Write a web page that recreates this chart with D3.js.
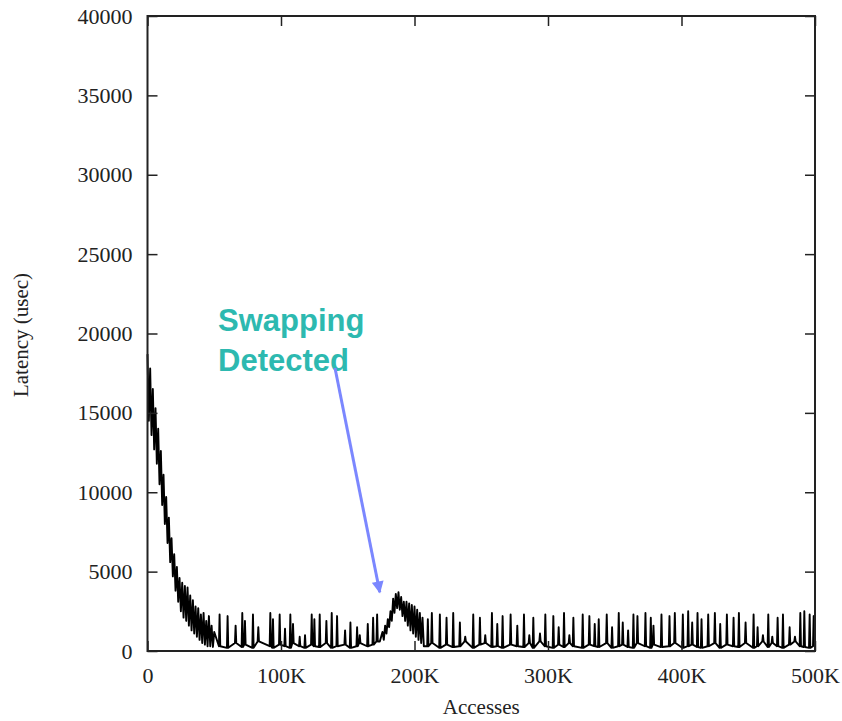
<!DOCTYPE html>
<html>
<head>
<meta charset="utf-8">
<script src="https://cdn.jsdelivr.net/npm/d3@7"></script>
<style>
  body { margin: 0; background: #fff; }
  svg { display: block; }
</style>
</head>
<body>
<svg id="chart"></svg>
<script>
// Latency vs accesses, with the swapping bump annotated

const width = 842;
const height = 721;
const plotLeft = 147.5, plotRight = 815, plotTop = 16, plotBottom = 651;

// x ticks (thousands of accesses), y ticks (usec)
const xTicks = [0, 100, 200, 300, 400, 500];
const yTicks = [0, 5000, 10000, 15000, 20000, 25000, 30000, 35000, 40000];

// warm-up decay, one sample per 1K accesses
const decayK = [0, 1, 2, 3, 4, 5, 6, 7, 8, 9, 10, 11, 12, 13, 14, 15, 16, 17, 18, 19, 20,
    21, 22, 23, 24, 25, 26, 27, 28, 29, 30, 31, 32, 33, 34, 35, 36, 37, 38, 39, 40,
    41, 42, 43, 44, 45, 46, 47, 48, 49, 50];
const decayUsec = [18700, 14500, 17800, 13600, 16500, 12700, 15300, 11800, 14000, 10500, 12600,
    9200, 11100, 8000, 9700, 6800, 8400, 5600, 7100, 4700, 6100,
    3800, 5300, 3100, 4600, 2500, 4300, 2100, 4100, 1900, 4000,
    1600, 3500, 1300, 3200, 1100, 2800, 900, 2700, 700, 2300,
    500, 2400, 400, 1900, 300, 2200, 300, 1600, 250, 1200];

// periodic spikes before the swap
const spikesAK = [54, 60, 66, 71, 73, 79, 83, 92, 94, 99, 103, 107, 109, 114, 118, 123, 125, 129,
    134, 138, 142, 148, 152, 157, 159, 165, 169, 172];
const spikesAPeak = [2300, 2200, 1600, 2400, 1900, 2300, 1500, 2400, 2000, 2300, 1400, 2300, 1700,
    900, 1000, 2300, 2000, 2300, 1900, 2400, 2200, 1300, 1800, 1500, 1000, 1700, 2100, 2300];
const spikesAFloor = [300, 200, 500, 250, 400, 200, 600, 300, 200, 400, 300, 200, 500, 300, 200,
    400, 300, 250, 500, 200, 300, 400, 200, 300, 500, 300, 400, 600];

// swapping bump
const bumpK = [174, 176, 177, 178, 179, 180, 181, 182, 183, 184, 185, 186, 187, 188, 189, 190,
    191, 192, 193, 194, 195, 196, 197, 198, 199, 200, 201, 202, 203, 204, 205, 206, 207];
const bumpUsec = [600, 1200, 700, 1600, 1100, 2000, 1500, 2500, 1900, 3300, 2400, 3600, 2700,
    3700, 2600, 3400, 2200, 3100, 1900, 3100, 1600, 3000, 1300, 2900, 1100, 2800, 900, 2600,
    700, 2400, 500, 2100, 300];

// periodic spikes after the swap
const spikesBK = [210, 213, 219, 224, 229, 234, 238, 244, 249, 253, 258, 262, 266, 272, 277, 282,
    286, 289, 294, 298, 304, 308, 312, 316, 319, 326, 331, 335, 338, 344, 348, 353, 356, 360,
    364, 367, 373, 377, 379, 385, 391, 395, 401, 405, 408, 412, 415, 420, 425, 429, 434, 439,
    443, 448, 454, 457, 461, 465, 468, 472, 476, 481, 485, 489, 492, 496, 499];
const spikesBPeak = [2000, 2400, 2300, 2100, 2400, 1800, 900, 2300, 2100, 1000, 2400, 1700, 2200,
    2300, 1600, 2300, 1000, 2100, 1100, 2300, 2200, 1500, 2400, 1000, 2100, 2300, 2200, 1700,
    2000, 2300, 1500, 2400, 1800, 1300, 2300, 2200, 2400, 2100, 1600, 2300, 2200, 2400, 2300,
    2500, 1800, 2400, 2000, 2300, 2400, 1700, 2300, 2100, 2400, 1800, 2300, 1500, 1000, 2300,
    900, 2100, 2300, 1500, 900, 2400, 2500, 2300, 2200];
const spikesBFloor = [300, 500, 200, 400, 250, 300, 600, 200, 400, 500, 250, 300, 200, 400, 300,
    250, 500, 200, 600, 300, 200, 400, 250, 500, 300, 200, 400, 300, 250, 500, 200, 300, 400,
    250, 200, 500, 300, 200, 400, 250, 300, 500, 200, 300, 400, 250, 200, 300, 500, 200, 400,
    300, 250, 500, 200, 300, 600, 250, 500, 300, 200, 400, 600, 300, 250, 200, 300];

const x = d3.scaleLinear().domain([0, 500]).range([plotLeft, plotRight]);
const y = d3.scaleLinear().domain([0, 40000]).range([plotBottom, plotTop]);

// build the trace: decay, spikes, bump, spikes
function spikePoints(ks, peaks, floors) {
    const pts = [];
    ks.forEach((k, i) => {
        pts.push([k - 0.5, floors[i]]);
        pts.push([k, peaks[i]]);
        pts.push([k + 0.5, floors[i]]);
    });
    return pts;
}
const trace = []
    .concat(decayK.map((k, i) => [k, decayUsec[i]]))
    .concat(spikePoints(spikesAK, spikesAPeak, spikesAFloor))
    .concat(bumpK.map((k, i) => [k, bumpUsec[i]]))
    .concat(spikePoints(spikesBK, spikesBPeak, spikesBFloor));

const svg = d3.select("#chart").attr("width", width).attr("height", height);

const serif = "'Liberation Serif', 'DejaVu Serif', serif";

// trace
svg.append("path")
    .datum(trace)
    .attr("fill", "none")
    .attr("stroke", "#000")
    .attr("stroke-width", 1.9)
    .attr("stroke-linejoin", "round")
    .attr("d", d3.line().x(d => x(d[0])).y(d => y(d[1])));

// axes, ticks pointing inward
const fmtK = d => d === 0 ? "0" : d + "K";
function styleAxis(g) {
    g.select(".domain").remove();
    g.selectAll("line").attr("stroke", "#222").attr("stroke-width", 1.5);
    g.selectAll("text").attr("font-family", serif).attr("font-size", 22).attr("fill", "#222");
}
svg.append("g").attr("transform", `translate(${plotLeft},0)`)
    .call(d3.axisLeft(y).tickValues(yTicks).tickSize(-10).tickPadding(15).tickFormat(d3.format("d")))
    .call(styleAxis);
svg.append("g").attr("transform", `translate(${plotRight},0)`)
    .call(d3.axisRight(y).tickValues(yTicks).tickSize(-10).tickFormat(""))
    .call(styleAxis);
svg.append("g").attr("transform", `translate(0,${plotBottom})`)
    .call(d3.axisBottom(x).tickValues(xTicks).tickSize(-10).tickPadding(16).tickFormat(fmtK))
    .call(styleAxis);
svg.append("g").attr("transform", `translate(0,${plotTop})`)
    .call(d3.axisTop(x).tickValues(xTicks).tickSize(-10).tickFormat(""))
    .call(styleAxis);

// frame
svg.append("rect")
    .attr("x", plotLeft).attr("y", plotTop)
    .attr("width", plotRight - plotLeft).attr("height", plotBottom - plotTop)
    .attr("fill", "none").attr("stroke", "#222").attr("stroke-width", 2);

// axis titles
svg.append("text")
    .attr("x", (plotLeft + plotRight) / 2).attr("y", 714)
    .attr("text-anchor", "middle")
    .attr("font-family", serif).attr("font-size", 21).attr("fill", "#222")
    .text("Accesses");
svg.append("text")
    .attr("transform", "translate(28,335) rotate(-90)")
    .attr("text-anchor", "middle")
    .attr("font-family", serif).attr("font-size", 21).attr("fill", "#222")
    .text("Latency (usec)");

// annotation
const note = svg.append("text")
    .attr("font-family", "'Liberation Sans', Arial, sans-serif")
    .attr("font-weight", "bold").attr("font-size", 31).attr("fill", "#2db9b0");
note.append("tspan").attr("x", 218).attr("y", 331).text("Swapping");
note.append("tspan").attr("x", 218).attr("y", 371).text("Detected");

svg.append("defs").append("marker")
    .attr("id", "head")
    .attr("viewBox", "0 0 10 10")
    .attr("refX", 9).attr("refY", 5)
    .attr("markerWidth", 5).attr("markerHeight", 4)
    .attr("markerUnits", "strokeWidth")
    .attr("orient", "auto")
    .append("path").attr("d", "M0,0L10,5L0,10Z").attr("fill", "#7b87ff");

const tip = [174, 3700];
svg.append("line")
    .attr("x1", 335).attr("y1", 368)
    .attr("x2", x(tip[0])).attr("y2", y(tip[1]))
    .attr("stroke", "#7b87ff").attr("stroke-width", 3)
    .attr("marker-end", "url(#head)");
</script>
</body>
</html>
